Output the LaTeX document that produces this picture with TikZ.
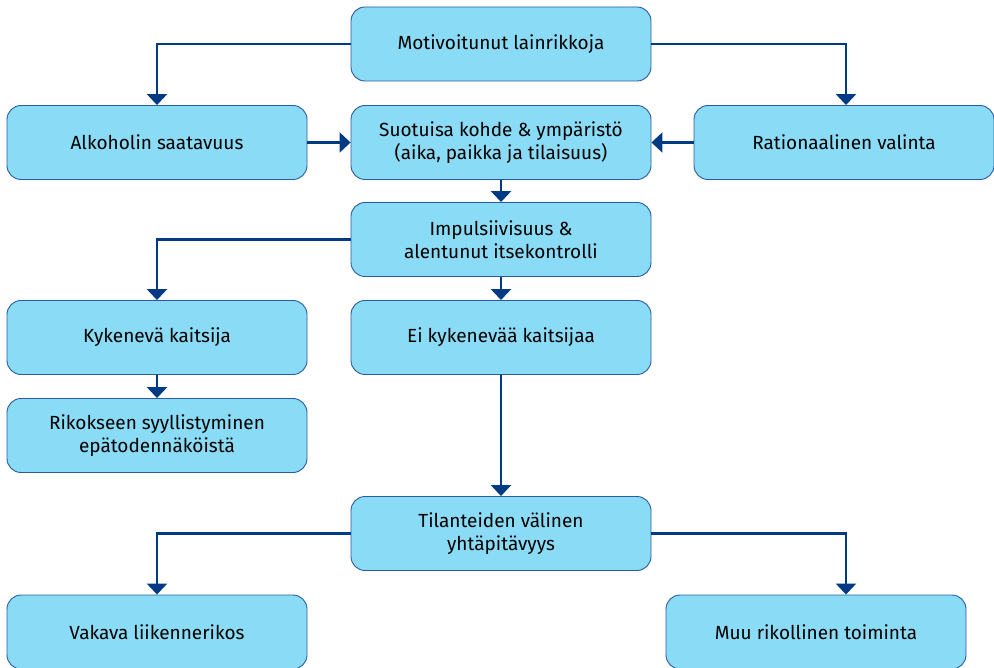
\documentclass[tikz,border=0pt]{standalone}
\usepackage{fontspec}
\setmainfont{Fira Sans}
\usetikzlibrary{arrows.meta}
\definecolor{boxfill}{HTML}{8ADCF6}
\definecolor{boxline}{HTML}{2A5AA0}
\definecolor{arr}{HTML}{003A84}
\begin{document}
\begin{tikzpicture}[x=1pt,y=-1pt,
  box/.style={draw=boxline,line width=0.9pt,fill=boxfill,rounded corners=14pt,
    minimum width=300pt,minimum height=74pt,align=center,inner sep=0pt,
    font=\fontsize{19}{23}\selectfont,text=black},
  conn/.style={draw=arr,line width=2.4pt,-{Triangle[width=20pt,length=11pt]}}]
\useasboundingbox (0,0) rectangle (994,668);
\node[box] (mot) at (501,44) {Motivoitunut lainrikkoja};
\node[box] (alk) at (157,142.5) {Alkoholin saatavuus};
\node[box] (suo) at (501,142.5) {Suotuisa kohde \& ympäristö\\(aika, paikka ja tilaisuus)};
\node[box] (rat) at (844,142.5) {Rationaalinen valinta};
\node[box] (imp) at (501,239.5) {Impulsiivisuus \&\\alentunut itsekontrolli};
\node[box] (kyk) at (157,337.5) {Kykenevä kaitsija};
\node[box] (ei) at (501,337.5) {Ei kykenevää kaitsijaa};
\node[box] (rik) at (157,435.5) {Rikokseen syyllistyminen\\epätodennäköistä};
\node[box] (til) at (501,533.5) {Tilanteiden välinen\\yhtäpitävyys};
\node[box] (vak) at (157,632) {Vakava liikennerikos};
\node[box] (muu) at (816,632) {Muu rikollinen toiminta};
\draw[conn] (mot.west) -| (alk.north);
\draw[conn] (mot.east) -| ([xshift=2pt]rat.north);
\draw[conn] (alk.east) -- (suo.west);
\draw[conn] (rat.west) -- (suo.east);
\draw[conn] (suo.south) -- (imp.north);
\draw[conn] (imp.west) -| (kyk.north);
\draw[conn] (imp.south) -- (ei.north);
\draw[conn] (kyk.south) -- (rik.north);
\draw[conn] (ei.south) -- (til.north);
\draw[conn] (til.west) -| (vak.north);
\draw[conn] (til.east) -| ([xshift=30pt]muu.north);
\end{tikzpicture}
\end{document}
